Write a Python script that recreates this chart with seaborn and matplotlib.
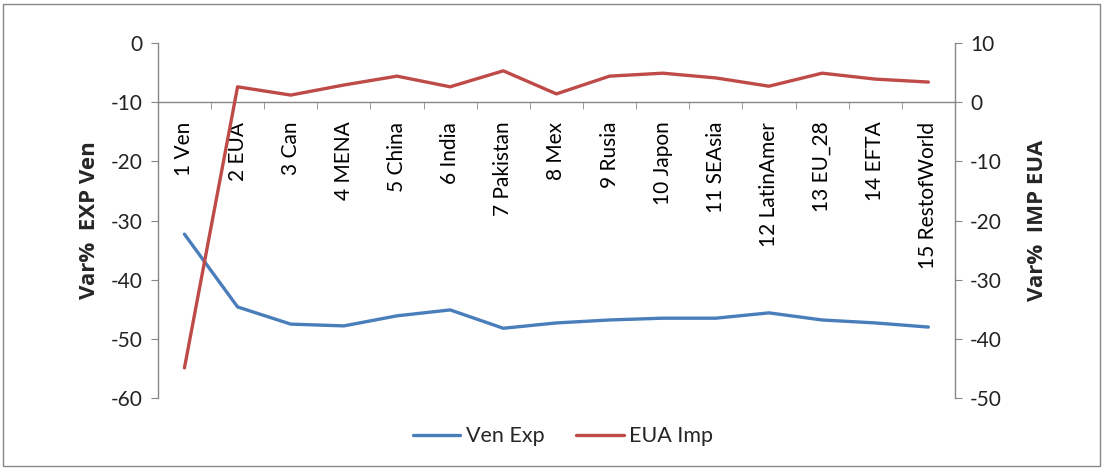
"""
Var% EXP Ven / Var% IMP EUA por región
"""

import pandas as pd
import numpy as np
import matplotlib
matplotlib.use('Agg')
import matplotlib.pyplot as plt
import seaborn as sns
from matplotlib.lines import Line2D
from matplotlib.patches import Rectangle

# datos
regions = ['1 Ven', '2 EUA', '3 Can', '4 MENA', '5 China', '6 India', '7 Pakistan',
           '8 Mex', '9 Rusia', '10 Japon', '11 SEAsia', '12 LatinAmer', '13 EU_28',
           '14 EFTA', '15 RestofWorld']
ven_exp = [-32.3, -44.6, -47.5, -47.8, -46.1, -45.1, -48.2, -47.3, -46.8, -46.5,
           -46.5, -45.6, -46.8, -47.3, -48.0]
eua_imp = [-44.9, 2.6, 1.2, 2.9, 4.4, 2.6, 5.3, 1.4, 4.4, 4.9, 4.1, 2.7, 4.9, 3.9, 3.4]

left_ticks = [0, -10, -20, -30, -40, -50, -60]
right_ticks = [10, 0, -10, -20, -30, -40, -50]

BLUE = '#4A7EBB'
RED = '#BE4B48'
GRAY = '#868686'

sns.set_style('white')
plt.rcParams['font.family'] = ['Lato', 'DejaVu Sans']
plt.rcParams['axes.unicode_minus'] = False

df = pd.DataFrame({'pos': np.arange(len(regions)), 'region': regions,
                   'ven_exp': ven_exp, 'eua_imp': eua_imp})

fig = plt.figure(figsize=(11.04, 4.7), dpi=100)
ax = fig.add_axes([0.143, 0.153, 0.722, 0.7555])
ax2 = ax.twinx()

sns.lineplot(data=df, x='pos', y='ven_exp', ax=ax, color=BLUE, linewidth=2.4, sort=False)
sns.lineplot(data=df, x='pos', y='eua_imp', ax=ax2, color=RED, linewidth=2.4, sort=False)

ax.set_xlim(-0.5, len(regions) - 0.5)
ax.set_ylim(-60, 0)
ax2.set_ylim(-50, 10)

ax.set_yticks(left_ticks)
ax.set_yticklabels([str(t) for t in left_ticks])
ax2.set_yticks(right_ticks)
ax2.set_yticklabels([str(t) for t in right_ticks])

# eje horizontal en el cero del eje derecho (-10 del izquierdo)
ax.spines['bottom'].set_position(('data', -10))
for a in (ax, ax2):
    a.spines['top'].set_visible(False)
    for s in ('left', 'right', 'bottom'):
        a.spines[s].set_color(GRAY)
        a.spines[s].set_linewidth(1.0)
ax2.spines['bottom'].set_visible(False)
ax2.spines['left'].set_visible(False)
ax.spines['right'].set_visible(False)

ax.set_xticks(df['pos'])
ax.set_xticklabels(regions, rotation=90, va='top', ha='center')
ax.set_xticks(np.arange(0.5, len(regions) - 1, 1.0), minor=True)
ax.tick_params(axis='x', which='major', length=0, pad=14, labelsize=15, colors='black')
ax.tick_params(axis='x', which='minor', length=5, direction='out', color=GRAY, bottom=True)
ax.tick_params(axis='y', length=5, direction='out', color=GRAY, left=True, labelsize=15,
               labelcolor='#222222', pad=6)
ax2.tick_params(axis='y', length=5, direction='out', color=GRAY, right=True, labelsize=15,
                labelcolor='#222222', pad=6)

ax.set_xlabel('')
lab_font = dict(fontsize=16, fontweight='bold', family=['Open Sans', 'DejaVu Sans'])
ax.set_ylabel('Var%  EXP Ven', labelpad=8, **lab_font)
ax2.set_ylabel('Var%  IMP EUA', labelpad=18, **lab_font)
ax.grid(False)
ax2.grid(False)

handles = [Line2D([], [], color=BLUE, linewidth=2.4),
           Line2D([], [], color=RED, linewidth=2.4)]
fig.legend(handles, ['Ven Exp', 'EUA Imp'], loc='center', bbox_to_anchor=(0.51, 0.072),
           ncol=2, frameon=False, fontsize=15.5, handlelength=2.2, columnspacing=1.5,
           handletextpad=0.25)

# marco del gráfico
fig.patches.append(Rectangle((0.003, 0.008), 0.993, 0.984, transform=fig.transFigure,
                             fill=False, edgecolor=GRAY, linewidth=1.0))

fig.savefig('out.png', dpi=100)
